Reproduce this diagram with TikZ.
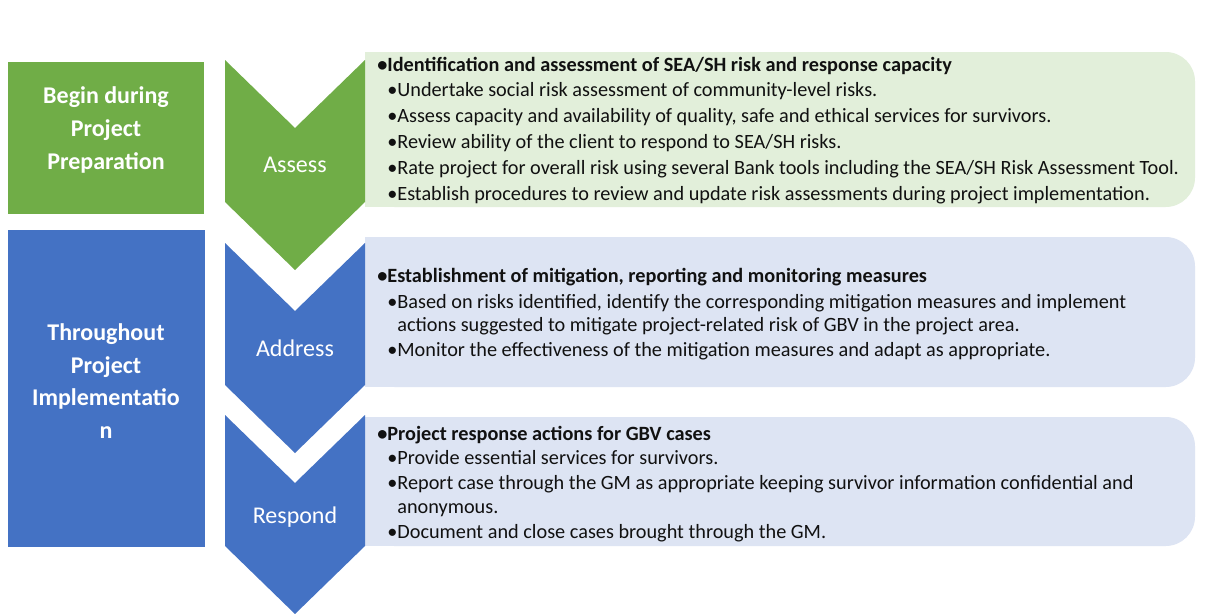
\documentclass[tikz,border=0pt]{standalone}
\usepackage{fontspec}
\setmainfont{Carlito}
\definecolor{cgreen}{HTML}{70AD47}
\definecolor{cblue}{HTML}{4472C4}
\definecolor{lgreen}{HTML}{E2EFDA}
\definecolor{lblue}{HTML}{DDE4F3}
\definecolor{txt}{HTML}{111111}
\begin{document}
\begin{tikzpicture}[x=0.75pt,y=-0.75pt,
  body/.style={anchor=base west, inner sep=0pt, text=txt, font=\fontsize{15.2}{18}\selectfont},
  head/.style={body, font=\fontsize{15.2}{18}\selectfont\bfseries},
  chevlabel/.style={text=white, inner sep=0pt, font=\fontsize{18}{22}\selectfont},
  sidelabel/.style={text=white, inner sep=0pt, align=center, font=\fontsize{18}{24.6}\selectfont\bfseries}]
\useasboundingbox (0,0) rectangle (1218,614);
\fill[white] (0,0) rectangle (1218,614);
% left phase boxes
\fill[cgreen] (8,62) rectangle (204,214);
\fill[cblue] (8,230) rectangle (205,547);
\node[sidelabel] (prep) at (106,130) {Begin during\\Project\\Preparation};
\node[sidelabel] (impl) at (106,381) {Throughout\\Project\\Implementatio\\n};
% content boxes (right corners rounded)
\fill[lgreen, rounded corners=22] (365,52) rectangle (1195,207);
\fill[lgreen] (365,52) rectangle (420,207);
\fill[lblue, rounded corners=22] (365,237) rectangle (1195,387);
\fill[lblue] (365,237) rectangle (420,387);
\fill[lblue, rounded corners=22] (365,417) rectangle (1195,546);
\fill[lblue] (365,417) rectangle (420,546);
% chevrons
\fill[cgreen] (225,60) -- (295,128) -- (365,60) -- (365,202) -- (295,270) -- (225,202) -- cycle;
\fill[cblue] (225,243) -- (295,311) -- (365,243) -- (365,385) -- (295,453) -- (225,385) -- cycle;
\fill[cblue] (225,415) -- (295,483) -- (365,415) -- (365,546) -- (295,614) -- (225,546) -- cycle;
\node[chevlabel] (assess) at (295,165) {Assess};
\node[chevlabel] (address) at (295,348) {Address};
\node[chevlabel] (respond) at (295,517) {Respond};
% box 1
\node[head] (h1) at (377,71) {•Identification and assessment of SEA/SH risk and response capacity};
\node[body] (a1) at (387,96) {•Undertake social risk assessment of community-level risks.};
\node[body] (a2) at (387,122) {•Assess capacity and availability of quality, safe and ethical services for survivors.};
\node[body] (a3) at (387,148) {•Review ability of the client to respond to SEA/SH risks.};
\node[body] (a4) at (387,174) {•Rate project for overall risk using several Bank tools including the SEA/SH Risk Assessment Tool.};
\node[body] (a5) at (387,200) {•Establish procedures to review and update risk assessments during project implementation.};
% box 2
\node[head] (h2) at (377,282) {•Establishment of mitigation, reporting and monitoring measures};
\node[body] (b1) at (387,308) {•Based on risks identified, identify the corresponding mitigation measures and implement};
\node[body] (b1c) at (387,331) {\phantom{•}actions suggested to mitigate project-related risk of GBV in the project area.};
\node[body] (b2) at (387,356) {•Monitor the effectiveness of the mitigation measures and adapt as appropriate.};
% box 3
\node[head] (h3) at (377,440) {•Project response actions for GBV cases};
\node[body] (c1) at (387,464) {•Provide essential services for survivors.};
\node[body] (c2) at (387,489) {•Report case through the GM as appropriate keeping survivor information confidential and};
\node[body] (c2c) at (387,513) {\phantom{•}anonymous.};
\node[body] (c3) at (387,538) {•Document and close cases brought through the GM.};
\end{tikzpicture}
\end{document}
